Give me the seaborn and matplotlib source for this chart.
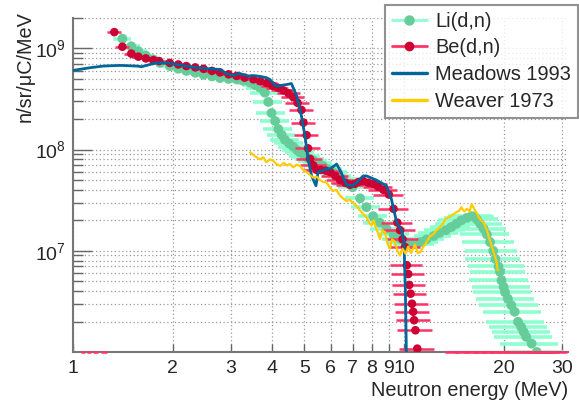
import numpy as np
import pandas as pd
import seaborn as sns
import matplotlib
matplotlib.use("Agg")
import matplotlib.pyplot as plt
from matplotlib.lines import Line2D
from matplotlib.ticker import FixedLocator, FixedFormatter, LogLocator, NullFormatter

# ---------------- data ----------------
be_E = [1.333, 1.41, 1.50, 1.575, 1.66, 1.75, 1.82, 1.96, 2.08, 2.2, 2.34, 2.48, 2.63, 2.78, 2.95,
        3.12, 3.3, 3.51, 3.68, 3.85, 4.0, 4.15, 4.32, 4.48, 4.63, 4.77, 4.9, 4.97, 5.08, 5.13, 5.2,
        5.32, 5.45, 5.6, 5.8, 5.98, 6.2, 6.41, 6.65, 6.87, 7.1, 7.3, 7.53, 7.8, 8.07, 8.35, 8.67,
        9.0, 9.3, 9.55, 9.73, 9.9, 10.07, 10.2, 10.3, 10.37, 10.47, 10.57, 10.66, 10.73, 10.83, 10.97]
be_val = [1.45e9, 1.04e9, 8.9e8, 8.3e8, 7.97e8, 7.67e8, 7.5e8, 7.2e8, 6.95e8, 6.7e8, 6.5e8, 6.3e8,
          6.0e8, 5.8e8, 5.55e8, 5.35e8, 5.15e8, 4.95e8, 4.75e8, 4.55e8, 4.3e8, 4.1e8, 3.85e8, 3.6e8,
          3.3e8, 2.9e8, 2.47e8, 1.85e8, 1.39e8, 1.03e8, 8.1e7, 7.0e7, 6.3e7, 6.3e7, 6.2e7, 6.0e7,
          5.5e7, 5.0e7, 4.7e7, 4.5e7, 4.6e7, 4.8e7, 4.9e7, 4.7e7, 4.6e7, 4.3e7, 4.0e7, 3.6e7, 2.6e7,
          1.9e7, 1.6e7, 1.3e7, 1.09e7, 7.2e6, 5.9e6, 4.6e6, 3.77e6, 3.0e6, 2.5e6, 2.06e6, 1.64e6, 1.08e6]
be_res = [0.05, 0.05, 0.05, 0.05, 0.05, 0.05, 0.05, 0.05, 0.055, 0.055, 0.055, 0.06, 0.06, 0.06, 0.06,
          0.065, 0.065, 0.07, 0.07, 0.07, 0.075, 0.075, 0.08, 0.08, 0.08, 0.085, 0.085, 0.085, 0.085,
          0.085, 0.09, 0.09, 0.09, 0.09, 0.09, 0.09, 0.095, 0.095, 0.095, 0.095, 0.1, 0.1, 0.1, 0.1,
          0.1, 0.1, 0.1, 0.105, 0.105, 0.11, 0.11, 0.11, 0.11, 0.11, 0.115, 0.115, 0.115, 0.12, 0.12,
          0.12, 0.12, 0.12]
# empty Be bins (drawn on the bottom edge)
be_zero_E = [1.07, 1.12, 1.17, 1.24, 14.0, 15.0, 16.0, 17.0, 18.0, 19.0, 20.0, 21.0, 22.0, 23.0,
             24.0, 25.0, 26.0, 27.0, 28.0, 29.0]
be_zero_res = [0.015, 0.015, 0.015, 0.02, 0.05, 0.05, 0.05, 0.05, 0.05, 0.05, 0.05, 0.05, 0.05,
               0.05, 0.05, 0.05, 0.05, 0.05, 0.05, 0.07]

li_E = [1.41, 1.50, 1.575, 1.66, 1.75, 1.83, 1.96, 2.08, 2.2, 2.34, 2.48, 2.63, 2.78, 2.95, 3.12,
        3.27, 3.43, 3.55, 3.67, 3.8, 3.89, 3.98, 4.08, 4.17, 4.27, 4.37, 4.5, 4.63, 4.75, 4.85, 5.0,
        5.08, 5.2, 5.32, 5.5, 5.69, 5.9, 6.1, 6.3, 6.55, 6.8, 7.0, 7.37, 7.7, 8.07, 8.45, 8.85, 9.3,
        9.73, 10.1, 10.5, 10.9, 11.2, 11.7, 12.3, 12.8, 13.4, 13.9, 14.4, 14.9, 15.5, 16.0, 16.3,
        16.6, 17.0, 17.4, 17.8, 18.2, 18.6, 18.9, 19.3, 19.5, 19.7, 20.0, 20.2, 20.6, 21.1, 21.6,
        22.1, 22.6, 23.0, 23.4, 24.3, 25.2]
li_val = [1.25e9, 1.05e9, 9.4e8, 8.5e8, 7.8e8, 7.2e8, 6.7e8, 6.3e8, 6.0e8, 5.75e8, 5.5e8, 5.3e8,
          5.1e8, 5.0e8, 4.95e8, 4.8e8, 4.6e8, 4.35e8, 4.1e8, 3.66e8, 2.96e8, 2.3e8, 1.92e8, 1.6e8,
          1.4e8, 1.25e8, 1.15e8, 1.07e8, 9.9e7, 9.4e7, 8.7e7, 8.4e7, 8.1e7, 7.8e7, 7.3e7, 6.9e7,
          6.4e7, 6.0e7, 5.5e7, 5.1e7, 4.6e7, 4.25e7, 3.3e7, 2.7e7, 2.2e7, 1.9e7, 1.65e7, 1.45e7,
          1.31e7, 1.22e7, 1.17e7, 1.18e7, 1.22e7, 1.3e7, 1.4e7, 1.5e7, 1.6e7, 1.72e7, 1.85e7, 2.0e7,
          2.12e7, 2.2e7, 2.18e7, 2.05e7, 1.85e7, 1.65e7, 1.45e7, 1.22e7, 1.0e7, 8.3e6, 7.0e6, 6.2e6,
          5.1e6, 4.4e6, 3.9e6, 3.37e6, 2.9e6, 2.5e6, 1.99e6, 1.77e6, 1.58e6, 1.41e6, 1.21e6, 1.0e6]
li_res = [0.06, 0.06, 0.06, 0.06, 0.06, 0.065, 0.065, 0.065, 0.07, 0.07, 0.07, 0.075, 0.075, 0.08,
          0.08, 0.085, 0.09, 0.09, 0.095, 0.1, 0.1, 0.1, 0.1, 0.1, 0.1, 0.1, 0.1, 0.1, 0.1, 0.1, 0.1,
          0.1, 0.1, 0.1, 0.1, 0.1, 0.1, 0.1, 0.1, 0.1, 0.1, 0.1, 0.1, 0.1, 0.1, 0.11, 0.11, 0.11,
          0.12, 0.12, 0.12, 0.13, 0.13, 0.13, 0.13, 0.14, 0.14, 0.14, 0.14, 0.15, 0.15, 0.15, 0.15,
          0.16, 0.16, 0.17, 0.17, 0.18, 0.18, 0.19, 0.19, 0.19, 0.2, 0.2, 0.2, 0.2, 0.2, 0.2,
          0.2, 0.2, 0.2, 0.2, 0.2, 0.2]

meadows_E = [1.0, 1.126, 1.235, 1.387, 1.56, 1.61, 1.71, 1.79, 1.92, 2.06, 2.25, 2.48, 2.78, 2.91,
             3.05, 3.19, 3.35, 3.5, 3.67, 3.84, 3.93, 4.12, 4.23, 4.42, 4.57, 4.74, 4.9, 5.02, 5.13,
             5.26, 5.42, 5.5, 5.83, 6.0, 6.26, 6.45, 6.7, 7.0, 7.2, 7.53, 7.7, 8.25, 8.85, 9.15,
             9.5, 9.85, 10.0, 10.1, 10.2]
meadows_val = [6.07e8, 6.45e8, 6.7e8, 6.8e8, 6.7e8, 6.6e8, 6.95e8, 7.2e8, 7.2e8, 6.95e8, 6.6e8,
               6.35e8, 6.2e8, 5.67e8, 5.4e8, 5.67e8, 5.33e8, 5.4e8, 5.3e8, 5.14e8, 4.95e8, 4.2e8,
               4.3e8, 4.4e8, 4.5e8, 3.4e8, 2.15e8, 1.37e8, 8.1e7, 5.5e7, 4.4e7, 6.0e7, 6.4e7, 6.5e7,
               7.2e7, 6.0e7, 4.5e7, 4.4e7, 4.75e7, 5.5e7, 5.5e7, 5.0e7, 4.4e7, 3.3e7, 1.92e7, 1.58e7,
               1.22e7, 3.9e6, 5e5]

weaver_E = [3.43, 3.55, 3.67, 3.76, 3.84, 3.93, 4.02, 4.12, 4.23, 4.33, 4.42, 4.52, 4.63, 4.74,
            4.85, 4.96, 5.08, 5.2, 5.32, 5.45, 5.57, 5.7, 5.83, 5.98, 6.1, 6.25, 6.41, 6.55, 6.7,
            6.85, 7.0, 7.18, 7.37, 7.55, 7.7, 7.85, 7.98, 8.1, 8.25, 8.35, 8.46, 8.6, 8.77, 8.9,
            9.07, 9.2, 9.4, 9.55, 9.73, 9.9, 10.1, 10.3, 10.5, 10.66, 10.8, 11.0, 11.2, 11.45, 11.7,
            12.0, 12.3, 12.55, 12.8, 13.1, 13.4, 13.7, 14.1, 14.4, 14.7, 14.9, 15.2, 15.5, 15.8,
            16.0, 16.2, 16.4, 16.6, 16.8, 17.1, 17.4, 17.8, 18.2, 18.6, 19.0, 19.2]
weaver_val = [9.4e7, 8.6e7, 8.0e7, 8.4e7, 7.5e7, 8.0e7, 7.8e7, 7.2e7, 6.9e7, 7.4e7, 7.0e7, 7.2e7,
              6.7e7, 7.1e7, 6.9e7, 6.3e7, 6.0e7, 5.6e7, 5.3e7, 5.4e7, 5.0e7, 4.8e7, 4.75e7, 4.2e7,
              3.9e7, 4.0e7, 3.5e7, 3.3e7, 3.1e7, 3.2e7, 3.0e7, 2.8e7, 2.5e7, 2.3e7, 2.15e7, 1.9e7,
              1.78e7, 2.0e7, 1.65e7, 1.5e7, 1.31e7, 1.6e7, 1.53e7, 1.2e7, 1.05e7, 1.3e7, 1.22e7,
              1.0e7, 9.0e6, 1.05e7, 9.4e6, 1.1e7, 9.5e6, 1.05e7, 1.15e7, 9.5e6, 9.7e6, 1.1e7, 1.22e7,
              1.4e7, 1.47e7, 1.6e7, 1.7e7, 1.85e7, 2.1e7, 2.15e7, 2.3e7, 2.4e7, 2.5e7, 2.7e7, 2.45e7,
              2.6e7, 2.45e7, 2.9e7, 2.7e7, 2.5e7, 2.35e7, 2.15e7, 2.0e7, 1.9e7, 1.6e7, 1.25e7,
              1.0e7, 8.0e6, 6.4e6]

x_ticks = [1, 2, 3, 4, 5, 6, 7, 8, 9, 10, 20, 30]
x_ticklabels = ["1", "2", "3", "4", "5", "6", "7", "8", "9", "10", "20", "30"]
y_ticks = [1e7, 1e8, 1e9]
y_ticklabels = [r"$10^{7}$", r"$10^{8}$", r"$10^{9}$"]

labels = ["Li(d,n)", "Be(d,n)", "Meadows 1993", "Weaver 1973"]

# ---------------- style ----------------
LI_M, LI_E = "#66cc99", "#8fffcf"
BE_M, BE_E = "#cc0033", "#ff3366"
MEAD = "#006699"
WEAV = "#ffcc00"

sns.set_theme(style="white")
plt.rcParams["font.family"] = ["Liberation Sans", "DejaVu Sans"]
plt.rcParams["mathtext.fontset"] = "custom"
plt.rcParams["mathtext.rm"] = "Liberation Sans"
plt.rcParams["mathtext.it"] = "Liberation Sans:italic"
plt.rcParams["mathtext.default"] = "regular"

fig = plt.figure(figsize=(5.79, 4.07), dpi=100)
ax = fig.add_axes([73 / 579, 1 - 352 / 407, (568 - 73) / 579, (352 - 18) / 407])

li = pd.DataFrame({"E": li_E, "v": li_val, "r": li_res})
be = pd.DataFrame({"E": be_E, "v": be_val, "r": be_res})
mead = pd.DataFrame({"E": meadows_E, "v": meadows_val})
weav = pd.DataFrame({"E": weaver_E, "v": weaver_val})

# Li(d,n)
ax.errorbar(li["E"], li["v"], xerr=li["E"] * li["r"], fmt="none", ecolor=LI_E,
            elinewidth=2.6, capsize=0, zorder=2)
sns.scatterplot(data=li, x="E", y="v", ax=ax, color=LI_M, s=50, edgecolor="none",
                linewidth=0, zorder=3, legend=False)
# Be(d,n)
ax.errorbar(be["E"], be["v"], xerr=be["E"] * be["r"], fmt="none", ecolor=BE_E,
            elinewidth=1.8, capsize=0, zorder=4)
sns.scatterplot(data=be, x="E", y="v", ax=ax, color=BE_M, s=38, edgecolor="none",
                linewidth=0, zorder=5, legend=False)
# Meadows / Weaver
sns.lineplot(data=mead, x="E", y="v", ax=ax, color=MEAD, linewidth=2.0, sort=False,
             estimator=None, zorder=6, legend=False)
sns.lineplot(data=weav, x="E", y="v", ax=ax, color=WEAV, linewidth=1.6, sort=False,
             estimator=None, zorder=7, legend=False)

ax.set_xscale("log")
ax.set_yscale("log")
ax.set_xlim(1, 31.3)
ax.set_ylim(1e6, 2.0e9)

# empty Be bins on the bottom edge
ybot = ax.get_ylim()[0]
zE = np.array(be_zero_E)
zr = np.array(be_zero_res)
ax.hlines([ybot] * len(zE), zE * (1 - zr), zE * (1 + zr), colors=BE_E, linewidth=1.8,
          zorder=8, clip_on=False)

# ticks
ax.xaxis.set_major_locator(FixedLocator(x_ticks))
ax.xaxis.set_major_formatter(FixedFormatter(x_ticklabels))
ax.xaxis.set_minor_locator(FixedLocator([]))
ax.yaxis.set_major_locator(FixedLocator(y_ticks))
ax.yaxis.set_major_formatter(FixedFormatter(y_ticklabels))
ax.yaxis.set_minor_locator(LogLocator(base=10, subs=np.arange(2, 10), numticks=20))
ax.yaxis.set_minor_formatter(NullFormatter())
ax.tick_params(axis="x", which="major", direction="in", length=6, width=1, color="#666666",
               labelsize=14, pad=6, bottom=True, top=False)
ax.tick_params(axis="y", which="major", direction="in", length=14, width=1, color="#666666",
               labelsize=14, pad=5, left=True, right=False)
ax.tick_params(axis="y", which="minor", direction="in", length=7, width=1, color="#666666",
               left=True, right=False)

ax.grid(True, which="major", axis="both", color="#999999", linestyle=(0, (1, 2)), linewidth=0.9)
ax.grid(True, which="minor", axis="y", color="#999999", linestyle=(0, (1, 2)), linewidth=0.9)

for s in ["top", "right"]:
    ax.spines[s].set_visible(False)
for s in ["left", "bottom"]:
    ax.spines[s].set_color("#777777")
    ax.spines[s].set_linewidth(1.5)

ax.set_xlabel("Neutron energy (MeV)", fontsize=14.3, loc="right", labelpad=3)
ax.set_ylabel("n/sr/\u03bcC/MeV", fontsize=14.3, loc="top")
ax.yaxis.set_label_coords(-0.078, 1.02)

handles = [
    Line2D([], [], color=LI_E, linewidth=2.0, marker="o", markersize=6.5,
           markerfacecolor=LI_M, markeredgecolor=LI_M),
    Line2D([], [], color=BE_E, linewidth=2.0, marker="o", markersize=6,
           markerfacecolor=BE_M, markeredgecolor=BE_M),
    Line2D([], [], color=MEAD, linewidth=2.4),
    Line2D([], [], color=WEAV, linewidth=2.4),
]
leg = fig.legend(handles, labels, loc="upper right", bbox_to_anchor=(0.998, 0.988),
                 fontsize=14.4, frameon=True, fancybox=False, borderpad=0.35,
                 labelspacing=0.38, handlelength=1.75, handletextpad=0.4, borderaxespad=0)
leg.get_frame().set_edgecolor("#777777")
leg.get_frame().set_linewidth(1.5)

fig.savefig("out.png", dpi=100)
